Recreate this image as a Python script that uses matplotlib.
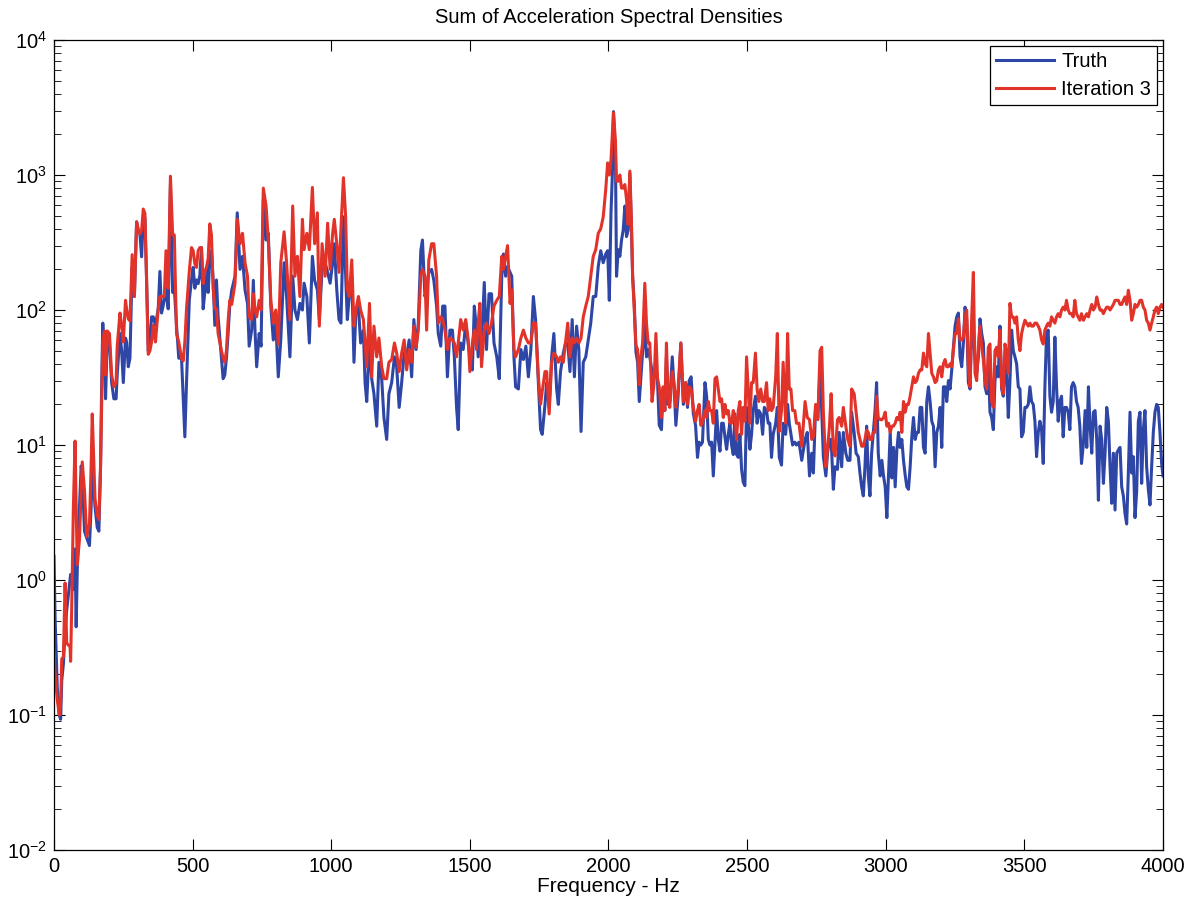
import matplotlib.pyplot as plt
from matplotlib.ticker import LogLocator, FixedLocator

plt.rcParams['font.family'] = ['Liberation Sans', 'DejaVu Sans']

# frequency (Hz), values
freq = [0, 4, 12, 19, 24, 28, 34, 40, 46, 58, 60, 64, 70, 76, 80, 84, 92, 98, 102, 110,
        118, 128, 134, 138, 144, 148, 156, 162, 168, 172, 176, 182, 186, 192, 200, 208, 216, 224, 228, 238,
        244, 250, 258, 262, 268, 274, 282, 290, 298, 304, 310, 316, 322, 328, 334, 340, 346, 352, 358, 366,
        376, 382, 388, 398, 404, 412, 420, 428, 434, 442, 450, 460, 466, 472, 478, 488, 496, 502, 508, 514,
        520, 526, 532, 538, 544, 550, 556, 562, 568, 574, 580, 586, 592, 604, 610, 616, 622, 628, 634, 641,
        653, 661, 671, 680, 689, 698, 704, 713, 719, 725, 731, 740, 747, 755, 765, 773, 782, 791, 800, 809,
        818, 830, 839, 851, 861, 869, 878, 887, 896, 902, 912, 921, 932, 940, 950, 957, 967, 978, 987, 996,
        1005, 1011, 1020, 1028, 1035, 1044, 1052, 1058, 1065, 1074, 1082, 1089, 1098, 1106, 1116, 1122, 1128, 1138, 1146, 1154,
        1164, 1172, 1182, 1190, 1200, 1208, 1218, 1228, 1236, 1245, 1254, 1263, 1272, 1281, 1290, 1298, 1306, 1314, 1323, 1329,
        1338, 1344, 1352, 1362, 1370, 1380, 1386, 1395, 1402, 1410, 1419, 1428, 1437, 1444, 1452, 1458, 1467, 1476, 1485, 1494,
        1500, 1509, 1516, 1524, 1530, 1536, 1542, 1552, 1560, 1569, 1578, 1587, 1597, 1606, 1615, 1621, 1629, 1636, 1645, 1651,
        1659, 1665, 1675, 1684, 1693, 1702, 1711, 1720, 1729, 1737, 1747, 1755, 1761, 1771, 1777, 1786, 1795, 1803, 1813, 1819,
        1827, 1837, 1845, 1853, 1861, 1869, 1877, 1885, 1893, 1901, 1909, 1918, 1927, 1936, 1945, 1954, 1963, 1972, 1981, 1990,
        1997, 2003, 2009, 2014, 2018, 2025, 2029, 2035, 2041, 2047, 2053, 2059, 2065, 2071, 2077, 2083, 2087, 2093, 2099, 2105,
        2111, 2117, 2123, 2131, 2137, 2143, 2149, 2157, 2164, 2171, 2177, 2183, 2191, 2197, 2203, 2209, 2215, 2221, 2230, 2237,
        2243, 2251, 2261, 2270, 2278, 2285, 2291, 2298, 2306, 2314, 2321, 2327, 2333, 2339, 2348, 2354, 2360, 2366, 2372, 2378,
        2384, 2390, 2396, 2402, 2408, 2414, 2420, 2426, 2432, 2438, 2444, 2450, 2456, 2462, 2468, 2474, 2480, 2486, 2492, 2498,
        2504, 2510, 2516, 2522, 2530, 2536, 2542, 2549, 2556, 2562, 2570, 2576, 2582, 2588, 2594, 2603, 2609, 2616, 2624, 2630,
        2639, 2646, 2652, 2658, 2664, 2672, 2678, 2687, 2697, 2709, 2717, 2725, 2733, 2739, 2747, 2755, 2763, 2769, 2775, 2784,
        2790, 2797, 2803, 2811, 2817, 2826, 2832, 2841, 2847, 2856, 2863, 2871, 2877, 2886, 2893, 2901, 2907, 2913, 2919, 2925,
        2931, 2937, 2943, 2949, 2955, 2961, 2967, 2973, 2980, 2986, 2992, 2998, 3004, 3010, 3016, 3022, 3028, 3034, 3040, 3046,
        3052, 3058, 3064, 3070, 3076, 3082, 3088, 3094, 3100, 3106, 3112, 3118, 3124, 3130, 3136, 3142, 3148, 3154, 3160, 3166,
        3172, 3178, 3184, 3190, 3196, 3202, 3208, 3214, 3220, 3226, 3232, 3238, 3244, 3250, 3256, 3262, 3268, 3274, 3280, 3286,
        3292, 3298, 3304, 3310, 3316, 3322, 3328, 3334, 3340, 3346, 3352, 3358, 3364, 3370, 3376, 3382, 3388, 3394, 3400, 3406,
        3412, 3418, 3424, 3430, 3436, 3442, 3448, 3454, 3460, 3466, 3472, 3478, 3484, 3490, 3496, 3502, 3508, 3514, 3520, 3526,
        3532, 3538, 3544, 3550, 3556, 3562, 3568, 3574, 3580, 3586, 3592, 3598, 3604, 3610, 3616, 3622, 3628, 3634, 3640, 3646,
        3652, 3658, 3664, 3670, 3676, 3682, 3688, 3694, 3700, 3706, 3713, 3719, 3725, 3731, 3737, 3743, 3749, 3755, 3761, 3767,
        3773, 3779, 3785, 3791, 3797, 3803, 3809, 3815, 3821, 3827, 3833, 3839, 3845, 3851, 3857, 3863, 3869, 3875, 3881, 3887,
        3893, 3899, 3905, 3911, 3917, 3923, 3929, 3935, 3941, 3947, 3953, 3959, 3965, 3971, 3977, 3983, 3989, 3995, 4000]

truth = [1.5, 0.52, 0.157, 0.10, 0.093, 0.18, 0.24, 0.42, 0.6, 1.0, 1.1, 1.1, 0.85, 1.7, 0.45, 1.2, 3.5, 7.0, 6.1, 2.3,
         2.05, 1.8, 3.5, 7.0, 4.6, 3.5, 2.45, 2.3, 7, 29, 80, 44, 22, 62, 58, 29, 22, 22, 33, 67,
         50, 29, 62, 58, 38, 44, 207, 126, 450, 390, 365, 248, 480, 480, 167, 50, 58, 89, 89, 77,
         102, 193, 95, 118, 145, 102, 850, 135, 145, 77, 44, 44, 22, 11.5, 29, 118, 167, 207, 145, 167,
         157, 180, 290, 102, 135, 207, 135, 240, 275, 167, 77, 167, 89, 44, 31, 33, 44, 67, 108, 140,
         178, 525, 200, 250, 141, 112, 54, 71, 166, 71, 38, 67, 54, 660, 330, 370, 107, 60, 80, 32,
         60, 224, 126, 45, 178, 100, 85, 112, 100, 158, 126, 57, 250, 166, 141, 85, 200, 224, 190, 158,
         224, 310, 141, 85, 80, 490, 178, 85, 126, 178, 41, 100, 107, 57, 71, 29, 21, 57, 31, 24,
         13.8, 41, 31, 16, 11, 24, 29, 45, 38, 19, 29, 48, 45, 60, 32, 85, 51, 80, 275, 330,
         126, 141, 190, 200, 166, 107, 67, 54, 107, 107, 32, 71, 71, 45, 19, 13, 57, 51, 80, 57,
         45, 36, 107, 71, 45, 71, 57, 160, 51, 132, 132, 57, 45, 31, 178, 260, 178, 210, 190, 178,
         45, 27, 26, 51, 43, 54, 32, 51, 126, 85, 29, 13, 12, 20, 29, 19, 45, 67, 26, 20,
         35, 48, 57, 57, 35, 85, 32, 76, 51, 12.6, 41, 45, 60, 80, 126, 126, 210, 275, 224, 260,
         275, 118, 525, 1030, 2950, 1400, 178, 280, 250, 330, 390, 590, 350, 390, 1030, 390, 178, 112, 49, 41,
         21, 32, 49, 80, 45, 51, 45, 35, 32, 36, 29, 14, 13, 26, 18, 45, 20, 21, 45, 26,
         14, 23, 57, 20, 29, 19, 30, 32, 17, 14, 8.1, 10.5, 10, 10.5, 29, 23, 11, 10, 10.5, 5.9,
         10.5, 18, 11, 9, 14.5, 14.5, 11.5, 9.3, 12, 14.5, 10, 8.5, 17, 8.5, 8.1, 12, 6.6, 5.3, 5, 19,
         14.5, 9.3, 12, 18, 23, 14.5, 18, 17, 12, 19, 18, 14.5, 14.5, 8.1, 12, 14.5, 19, 8.1, 7.1, 14.5,
         12, 20, 14.5, 12, 10, 10.5, 10, 10.5, 7.7, 11, 12.4, 5.9, 8.7, 6.2, 19, 16, 36, 18, 8.2, 5.9,
         8.7, 11, 11, 4.7, 6.9, 6.6, 12.4, 6.9, 12.4, 8.7, 7.7, 7.7, 17.5, 12.4, 8.7, 8.2, 6.2, 4.9, 4.2, 6.9,
         13.8, 5.9, 4.2, 8.7, 12.4, 17.5, 29, 8.7, 5.9, 7.7, 5.9, 4.9, 2.9, 6, 12.4, 5.7, 9.6, 4.9, 9.2, 12.4,
         9.6, 11, 7.7, 6, 4.9, 4.7, 6.9, 11.5, 16, 11, 12.4, 12.4, 19, 19, 9.6, 8.7, 21, 27, 21, 15,
         13.8, 6.9, 12.4, 13.8, 19, 9.6, 27, 27, 21, 30, 26, 36, 53, 76, 89, 95, 45, 38, 57, 105,
         86, 29, 26, 76, 67, 43, 34, 45, 86, 67, 57, 27, 24, 38, 17.5, 16, 13, 30, 38, 32,
         76, 26, 23, 43, 34, 16, 30, 71, 50, 45, 40, 27, 26, 11.5, 12.4, 19, 19, 20, 27, 21,
         20, 15, 8.2, 12.4, 15, 13, 7.3, 27, 67, 71, 23, 17.5, 21, 63, 27, 15, 21, 23, 11.5, 19,
         19, 17.5, 13, 27, 29, 27, 21, 19, 13.8, 7.3, 10.3, 18, 9.6, 27, 13.8, 8.7, 17.5, 18, 11, 3.9,
         13.8, 11, 5.2, 8.7, 19, 15, 6.9, 3.7, 8.7, 3.3, 8.7, 9.2, 9.6, 4.9, 4.2, 3.1, 2.6, 6.2, 17.5, 6.2,
         8.2, 2.9, 4.5, 15, 17.5, 5.2, 13, 18, 6.9, 4.7, 3.6, 6.9, 12.4, 17.5, 20, 19, 12.4, 7.3, 5.9]

iteration3 = [0.3, 0.2, 0.13, 0.10, 0.12, 0.26, 0.27, 0.95, 0.34, 0.32, 0.25, 0.64, 3.5, 10.7, 3.5, 1.3, 2.0, 4.6, 7.5, 4.6,
              2.1, 2.6, 7.0, 17, 7.0, 4.0, 3.0, 2.8, 7, 20, 58, 70, 33, 70, 67, 33, 27, 29, 54, 95,
              77, 58, 118, 102, 86, 83, 257, 126, 450, 390, 365, 390, 560, 520, 167, 47, 50, 58, 77, 58,
              102, 126, 126, 126, 275, 145, 980, 360, 360, 67, 58, 44, 42, 58, 102, 193, 290, 275, 220, 207,
              275, 290, 290, 157, 193, 207, 240, 435, 360, 145, 102, 102, 67, 50, 44, 41, 50, 83, 118, 110,
              158, 470, 310, 370, 224, 178, 89, 85, 132, 100, 89, 118, 100, 800, 590, 330, 118, 80, 100, 56,
              224, 380, 224, 85, 590, 178, 250, 126, 470, 280, 370, 280, 810, 310, 525, 76, 310, 178, 440, 200,
              370, 470, 310, 190, 400, 955, 490, 141, 126, 235, 76, 100, 126, 100, 85, 57, 38, 112, 32, 76,
              45, 62, 38, 31, 31, 41, 43, 57, 48, 35, 48, 60, 36, 51, 41, 76, 53, 71, 178, 200,
              178, 71, 235, 310, 310, 178, 80, 89, 85, 71, 51, 62, 60, 57, 45, 57, 85, 71, 85, 60,
              35, 57, 71, 51, 80, 112, 38, 71, 80, 67, 80, 107, 118, 126, 250, 200, 250, 300, 112, 141,
              51, 45, 51, 62, 71, 62, 57, 57, 80, 80, 32, 20, 25, 35, 35, 17, 41, 48, 45, 41,
              45, 41, 57, 80, 45, 62, 57, 62, 57, 62, 89, 107, 126, 178, 250, 280, 370, 400, 490, 780,
              1230, 1000, 1300, 2050, 2900, 1800, 900, 900, 1000, 800, 800, 850, 660, 430, 1070, 430, 178, 100, 55, 51,
              28, 45, 57, 158, 80, 57, 57, 21, 28, 67, 31, 27, 16, 27, 18, 57, 22, 19, 35, 28,
              19, 26, 57, 21, 29, 20, 27, 26, 19, 15, 18, 20, 14, 14.5, 18, 16, 21, 18, 18, 14.5,
              31, 32, 26, 21, 22, 16, 20, 17, 18, 14.5, 14.5, 18, 16, 11, 18, 21, 12, 19, 15, 45,
              26, 14.5, 29, 29, 48, 26, 21, 26, 21, 21, 29, 18, 22, 18, 19, 32, 67, 12.6, 18, 41,
              14.5, 67, 26, 26, 18, 18, 14.5, 14.5, 9.8, 21, 16, 15.4, 11, 11.5, 20, 15.4, 50, 53, 17.5, 6.9,
              9.2, 13.8, 24, 9.2, 8.3, 15.4, 16, 13.8, 19, 13.8, 11, 9.8, 26, 24, 17.5, 12.4, 11, 9.8, 9.8, 11,
              12.9, 12.4, 11, 11, 12.4, 12.4, 23, 16, 15.4, 15.4, 16, 17.5, 13.8, 14.5, 12.4, 13.8, 13.8, 14.5, 16, 15.4,
              17.5, 12.4, 21, 17.5, 20, 20, 23, 27, 32, 29, 30, 34, 36, 36, 48, 40, 38, 67, 48, 34,
              32, 29, 30, 36, 38, 32, 40, 43, 38, 38, 40, 38, 50, 67, 67, 86, 60, 60, 63, 89,
              100, 38, 27, 89, 190, 34, 30, 53, 76, 53, 43, 30, 26, 53, 56, 21, 19, 50, 53, 45,
              71, 27, 24, 56, 48, 34, 112, 89, 89, 80, 89, 60, 50, 67, 76, 84, 80, 76, 80, 76,
              76, 80, 80, 76, 71, 60, 56, 71, 76, 80, 76, 89, 84, 80, 89, 94, 89, 100, 105, 100,
              118, 100, 94, 94, 89, 118, 94, 89, 84, 94, 84, 89, 94, 89, 100, 110, 100, 105, 125, 110,
              100, 100, 94, 100, 105, 105, 100, 105, 110, 118, 118, 118, 110, 110, 118, 125, 110, 140, 118, 84,
              94, 110, 105, 110, 118, 118, 105, 100, 84, 80, 71, 80, 89, 100, 105, 94, 105, 110, 105]

blue = '#2E46A6'
red = '#E2332A'

fig = plt.figure(figsize=(11.97, 9.06), dpi=100)
ax = fig.add_axes([0.0451, 0.0618, 0.9265, 0.894])

ax.semilogy(freq, truth, color=blue, lw=2.2, label='Truth')
ax.semilogy(freq, iteration3, color=red, lw=2.2, label='Iteration 3')

ax.set_xlim(0, 4000)
ax.set_ylim(1e-2, 1e4)
ax.set_xticks(range(0, 4001, 500))
ax.yaxis.set_major_locator(FixedLocator([1e-2, 1e-1, 1e0, 1e1, 1e2, 1e3, 1e4]))
ax.yaxis.set_minor_locator(LogLocator(base=10, subs=range(2, 10), numticks=20))
ax.tick_params(which='both', direction='in', top=True, right=True, labelsize=14.5)
ax.tick_params(which='major', length=8, pad=5)
ax.tick_params(which='minor', length=5)
for s in ax.spines.values():
    s.set_linewidth(0.9)

ax.set_title('Sum of Acceleration Spectral Densities', fontsize=14.5, pad=12)
ax.set_xlabel('Frequency - Hz', fontsize=15, labelpad=1)

leg = ax.legend(loc='upper right', fontsize=14.5, fancybox=False, framealpha=1,
                edgecolor='black', borderaxespad=0.3, handlelength=2.9, borderpad=0.3,
                labelspacing=0.45, handletextpad=0.35)
leg.get_frame().set_linewidth(0.9)

plt.savefig('out.png', dpi=100)
